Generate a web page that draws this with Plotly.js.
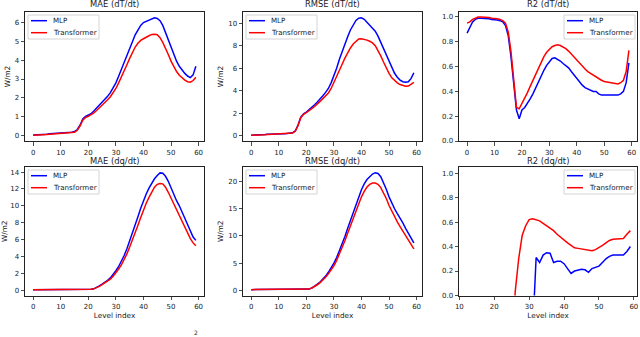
<!DOCTYPE html>
<html>
<head>
<meta charset="utf-8">
<script src="https://cdn.plot.ly/plotly-3.0.1.min.js"></script>
<style>
html, body { margin: 0; padding: 0; background: #fff; }
#chart { width: 640px; height: 337px; }
</style>
</head>
<body>
<div id="chart"></div>
<script>
// level index 0..59
const levels = [0,1,2,3,4,5,6,7,8,9,10,11,12,13,14,15,16,17,18,19,20,21,22,23,24,25,26,27,28,29,
    30,31,32,33,34,35,36,37,38,39,40,41,42,43,44,45,46,47,48,49,50,51,52,53,54,55,56,57,58,59];

// dT/dt
const maeDtMlp = [0.03,0.03,0.04,0.05,0.06,0.07,0.09,0.10,0.11,0.12,0.12,0.13,0.14,0.15,0.17,0.21,0.32,0.55,0.88,1.02,
    1.08,1.16,1.30,1.45,1.60,1.76,1.92,2.08,2.28,2.52,2.80,3.15,3.52,3.92,4.32,4.70,5.05,5.35,5.60,5.85,
    6.00,6.07,6.15,6.22,6.25,6.22,6.10,5.85,5.45,5.05,4.65,4.25,3.95,3.68,3.47,3.30,3.16,3.08,3.22,3.68];
const maeDtTrans = [0.02,0.02,0.03,0.04,0.05,0.06,0.07,0.08,0.09,0.10,0.11,0.12,0.13,0.14,0.15,0.18,0.28,0.50,0.82,0.96,
    1.02,1.10,1.20,1.33,1.46,1.60,1.75,1.90,2.06,2.26,2.50,2.80,3.10,3.42,3.76,4.10,4.42,4.70,4.90,5.05,
    5.14,5.20,5.30,5.37,5.38,5.35,5.20,4.95,4.65,4.30,3.95,3.65,3.40,3.20,3.05,2.94,2.86,2.83,2.92,3.10];

const rmseDtMlp = [0.05,0.05,0.06,0.07,0.08,0.10,0.12,0.14,0.16,0.17,0.17,0.17,0.18,0.19,0.21,0.26,0.42,0.95,1.65,1.95,
    2.10,2.30,2.50,2.75,3.00,3.25,3.55,3.85,4.20,4.70,5.30,6.00,6.80,7.50,8.20,8.80,9.40,9.90,10.25,10.45,
    10.48,10.35,10.10,9.85,9.60,9.30,8.85,8.30,7.70,7.10,6.55,6.00,5.55,5.20,4.95,4.80,4.75,4.80,5.10,5.60];
const rmseDtTrans = [0.04,0.04,0.05,0.06,0.07,0.09,0.11,0.12,0.14,0.15,0.16,0.16,0.17,0.18,0.20,0.25,0.40,0.90,1.60,1.90,
    2.05,2.20,2.40,2.60,2.80,3.05,3.30,3.55,3.80,4.20,4.70,5.20,5.80,6.35,6.90,7.40,7.80,8.15,8.40,8.60,
    8.62,8.58,8.50,8.40,8.25,8.00,7.60,7.10,6.55,6.00,5.55,5.15,4.90,4.70,4.55,4.45,4.40,4.42,4.55,4.75];

const r2DtMlp = [0.87,0.92,0.96,0.98,0.99,0.99,0.99,0.99,0.985,0.98,0.98,0.975,0.97,0.96,0.93,0.85,0.68,0.45,0.25,0.18,
    0.25,0.27,0.30,0.34,0.38,0.43,0.47,0.52,0.57,0.61,0.64,0.665,0.67,0.66,0.645,0.625,0.61,0.59,0.56,0.53,
    0.50,0.47,0.45,0.43,0.42,0.41,0.40,0.40,0.38,0.37,0.37,0.37,0.375,0.375,0.375,0.37,0.38,0.40,0.47,0.63];
const r2DtTrans = [0.95,0.96,0.98,0.99,1.0,1.0,1.0,1.0,0.995,0.99,0.99,0.985,0.98,0.97,0.95,0.88,0.72,0.50,0.27,0.26,
    0.30,0.34,0.39,0.44,0.49,0.54,0.59,0.64,0.68,0.715,0.74,0.76,0.77,0.775,0.77,0.76,0.745,0.725,0.70,0.675,
    0.65,0.625,0.60,0.58,0.56,0.545,0.53,0.515,0.50,0.49,0.48,0.475,0.47,0.465,0.46,0.46,0.47,0.49,0.56,0.73];

// dq/dt
const maeDqMlp = [0.05,0.05,0.05,0.05,0.05,0.05,0.05,0.05,0.05,0.05,0.05,0.05,0.05,0.05,0.05,0.05,0.05,0.05,0.05,0.06,
    0.07,0.09,0.15,0.30,0.50,0.70,0.90,1.15,1.45,1.85,2.30,2.80,3.40,4.10,4.90,5.80,6.70,7.70,8.70,9.70,
    10.6,11.4,12.1,12.7,13.2,13.6,13.9,13.85,13.5,12.9,12.1,11.3,10.6,10.0,9.30,8.60,7.80,7.00,6.30,5.90];
const maeDqTrans = [0.05,0.05,0.05,0.05,0.05,0.05,0.05,0.05,0.05,0.05,0.05,0.05,0.05,0.05,0.05,0.05,0.05,0.05,0.05,0.06,
    0.07,0.09,0.15,0.28,0.45,0.65,0.85,1.05,1.30,1.65,2.05,2.50,3.00,3.60,4.30,5.10,5.90,6.80,7.70,8.60,
    9.50,10.3,11.0,11.7,12.2,12.55,12.65,12.6,12.2,11.6,10.9,10.1,9.40,8.70,8.10,7.40,6.70,6.10,5.60,5.25];

const rmseDqMlp = [0.1,0.1,0.1,0.1,0.1,0.1,0.1,0.1,0.1,0.1,0.1,0.1,0.1,0.1,0.1,0.1,0.1,0.1,0.1,0.12,
    0.15,0.20,0.40,0.70,1.10,1.50,2.00,2.60,3.30,4.10,5.00,6.00,7.20,8.50,9.90,11.4,12.9,14.4,15.8,17.2,
    18.5,19.6,20.4,20.9,21.4,21.65,21.5,20.9,19.9,18.6,17.2,16.0,15.0,14.1,13.3,12.4,11.4,10.4,9.50,8.70];
const rmseDqTrans = [0.1,0.1,0.1,0.1,0.1,0.1,0.1,0.1,0.1,0.1,0.1,0.1,0.1,0.1,0.1,0.1,0.1,0.1,0.1,0.12,
    0.15,0.20,0.40,0.65,1.00,1.40,1.85,2.40,3.00,3.70,4.50,5.50,6.60,7.80,9.10,10.5,11.9,13.3,14.7,16.0,
    17.2,18.2,19.0,19.5,19.75,19.75,19.5,18.9,18.0,16.9,15.6,14.5,13.5,12.6,11.7,10.9,10.0,9.10,8.30,7.60];

// R2 of dq/dt goes far below zero at the upper levels (off the chart)
const r2DqMlp = [null,null,null,null,null,null,null,null,null,null,null,null,null,null,null,null,null,null,null,null,
    null,null,null,null,null,null,null,null,null,null,null,-0.3,0.31,0.27,0.33,0.35,0.345,0.27,0.28,0.28,
    0.26,0.22,0.18,0.20,0.21,0.215,0.21,0.19,0.22,0.23,0.24,0.27,0.30,0.32,0.33,0.33,0.33,0.33,0.36,0.40];
const r2DqTrans = [null,null,null,null,null,null,null,null,null,null,null,null,null,null,null,null,null,null,null,null,
    null,null,null,null,null,-0.6,0.03,0.30,0.49,0.57,0.62,0.627,0.62,0.61,0.59,0.57,0.55,0.53,0.50,0.475,
    0.45,0.43,0.41,0.39,0.385,0.38,0.37,0.365,0.365,0.375,0.39,0.41,0.43,0.45,0.46,0.46,0.46,0.465,0.50,0.53];

const W = 640, H = 337;
const px = v => v / W;
const py = v => 1 - v / H;

// panel boxes in pixels
const cols = [[25, 204], [243, 422], [459, 637]];
const rows = [[12, 141], [167, 295.5]];

const font = "DejaVu Sans, sans-serif";
const ink = "#222";

const panels = [
    {mlp: maeDtMlp, tr: maeDtTrans, title: "MAE (dT/dt)", yr: [-0.29, 6.56], dtick: 1, ytitle: "W/m2", leg: "left"},
    {mlp: rmseDtMlp, tr: rmseDtTrans, title: "RMSE (dT/dt)", yr: [-0.47, 11.0], dtick: 2, ytitle: "W/m2", leg: "left"},
    {mlp: r2DtMlp, tr: r2DtTrans, title: "R2 (dT/dt)", yr: [0, 1.04], dtick: 0.2, fmt: ".1f", leg: "right"},
    {mlp: maeDqMlp, tr: maeDqTrans, title: "MAE (dq/dt)", yr: [-0.64, 14.6], dtick: 2, ytitle: "W/m2", leg: "left"},
    {mlp: rmseDqMlp, tr: rmseDqTrans, title: "RMSE (dq/dt)", yr: [-0.98, 22.7], dtick: 5, ytitle: "W/m2", leg: "left"},
    {mlp: r2DqMlp, tr: r2DqTrans, title: "R2 (dq/dt)", yr: [0, 1.05], dtick: 0.2, fmt: ".1f", leg: "right", xr: [9.9, 60.9]}
];

const traces = [];
const layout = {
    width: W, height: H,
    margin: {l: 0, r: 0, t: 0, b: 0},
    paper_bgcolor: "#fff", plot_bgcolor: "#fff",
    showlegend: false,
    font: {family: font, color: ink},
    shapes: [], annotations: []
};

function axisBase() {
    return {
        showline: true, mirror: true, linecolor: ink, linewidth: 1,
        ticks: "outside", ticklen: 3.5, tickwidth: 0.8, tickcolor: ink,
        showgrid: false, zeroline: false,
        tickfont: {family: font, size: 7, color: ink}
    };
}

function addLegend(left, top) {
    layout.shapes.push({type: "rect", xref: "paper", yref: "paper",
        x0: px(left), x1: px(left + 71), y0: py(top), y1: py(top + 24),
        line: {color: "#d4d4d4", width: 1}, fillcolor: "rgba(255,255,255,0.85)"});
    [["MLP", "#0000ff", 5.7], ["Transformer", "#ff0000", 17.7]].forEach(([name, color, dy]) => {
        layout.shapes.push({type: "line", xref: "paper", yref: "paper",
            x0: px(left + 3), x1: px(left + 19), y0: py(top + dy), y1: py(top + dy),
            line: {color, width: 1.5}});
        layout.annotations.push({text: name, xref: "paper", yref: "paper",
            x: px(left + 23.5), y: py(top + dy), xanchor: "left", yanchor: "middle",
            showarrow: false, borderpad: 0, font: {family: font, size: 7.1, color: ink}});
    });
}

panels.forEach((p, i) => {
    const n = i + 1;
    const c = cols[i % 3], r = rows[Math.floor(i / 3)];
    const xa = "xaxis" + (n > 1 ? n : ""), ya = "yaxis" + (n > 1 ? n : "");
    const xr = "x" + (n > 1 ? n : ""), yr = "y" + (n > 1 ? n : "");

    traces.push({x: levels, y: p.mlp, xaxis: xr, yaxis: yr, type: "scatter", mode: "lines",
        name: "MLP", line: {color: "#0000ff", width: 1.5}, connectgaps: false});
    traces.push({x: levels, y: p.tr, xaxis: xr, yaxis: yr, type: "scatter", mode: "lines",
        name: "Transformer", line: {color: "#ff0000", width: 1.5}, connectgaps: false});

    layout[xa] = Object.assign(axisBase(), {
        domain: [px(c[0]), px(c[1])], anchor: yr,
        range: p.xr || [-2.95, 61.95], tick0: 0, dtick: 10, ticklabelstandoff: 1
    });
    if (i >= 3) layout[xa].title = {text: "Level index", font: {family: font, size: 7.3, color: ink}, standoff: 2};

    layout[ya] = Object.assign(axisBase(), {
        domain: [py(r[1]), py(r[0])], anchor: xr,
        range: p.yr, tick0: 0, dtick: p.dtick
    });
    if (p.fmt) layout[ya].tickformat = p.fmt;
    if (p.ytitle) layout[ya].title = {text: p.ytitle, font: {family: font, size: 7.3, color: ink}, standoff: 3};

    layout.annotations.push({text: p.title, xref: "paper", yref: "paper",
        x: px((c[0] + c[1]) / 2), y: py(i < 3 ? 4.5 : 160.5), xanchor: "center", yanchor: "middle",
        showarrow: false, borderpad: 0, font: {family: font, size: 8.4, color: ink}});

    if (p.leg === "left") addLegend(c[0] + 3, r[0] + 3);
    else addLegend(c[1] - 73, r[0] + 3);
});

// stray glyph at the bottom edge of the source image
layout.annotations.push({text: "2", xref: "paper", yref: "paper", x: px(196), y: 0,
    xanchor: "center", yanchor: "bottom", showarrow: false, borderpad: 0,
    font: {family: font, size: 6, color: ink}});

Plotly.newPlot("chart", traces, layout, {staticPlot: true});
</script>
</body>
</html>
